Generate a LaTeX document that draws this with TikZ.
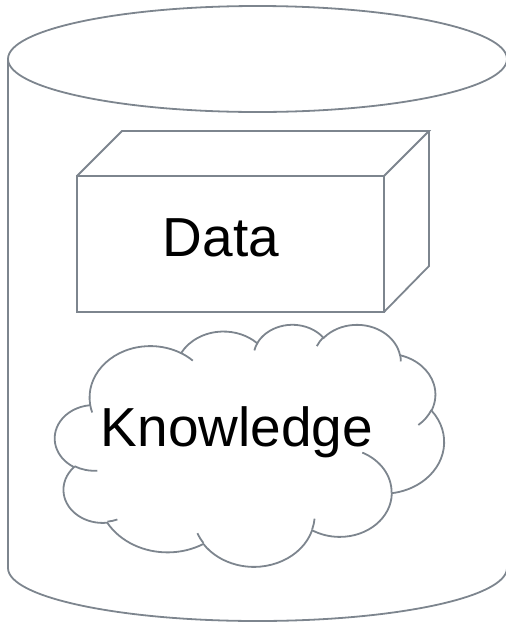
\documentclass[tikz,border=0pt]{standalone}
\usepackage{fontspec}
\setmainfont{Liberation Sans}
\usepackage{tikz}
\definecolor{edgegray}{RGB}{125,133,142}
\tikzset{
  outline/.style={draw=edgegray, line width=1.8pt},
  bigtext/.style={font=\fontsize{55}{60}\selectfont, inner sep=0pt},
  ooarc/.style args={#1/#2/#3/#4}{start angle={atan2(#1*sin(#3),#2*cos(#3))},
    delta angle={mod(atan2(#1*sin(#3+#4),#2*cos(#3+#4))-atan2(#1*sin(#3),#2*cos(#3))+720,360)},
    x radius=#1, y radius=#2}
}
\begin{document}
\begin{tikzpicture}[x=1pt, y=-1pt]
	\useasboundingbox (0,0) rectangle (506,622);

	% cylinder
	\draw[outline] (257.5,59) ellipse [x radius=249.5, y radius=53];
	\draw[outline] (8,59) -- (8,568) arc[start angle=180, end angle=0, x radius=249.5, y radius=53] -- (507,59);

	% cuboid
	\draw[outline] (77,176) rectangle (384,312);
	\draw[outline] (77,176) -- (122,131) -- (429,131) -- (384,176);
	\draw[outline] (429,131) -- (429,266) -- (384,312);
	\node[bigtext] (data) at (221,238) {Data};

	% cloud
	\begin{scope}[shift={(55,324)}, xscale=389/432, yscale=242/432]
	\draw[outline] (39.00,143.70)
	  \foreach \w/\h/\s/\d in {67.53/91.90/-190.4875/123.7805, 53.33/72.67/-144.1024/89.9452,
	    43.65/59.45/-145.8079/99.7230, 48.57/65.95/-130.9861/117.2417,
	    53.33/72.73/-78.7089/109.0269, 67.75/92.20/-46.2673/130.2690,
	    57.85/78.67/0.6250/114.0333, 67.52/92.15/22.4516/115.1726,
	    77.20/105.43/66.2426/75.7110, 43.60/59.18/-274.9421/146.7356,
	    43.45/59.45/-246.8285/152.5189}
	  { arc[ooarc=\w/\h/\s/\d] } -- cycle;
	\foreach \x/\y/\w/\h/\s/\d in {46.93/261.77/43.45/59.45/86.7420/26.4295,
	    69.28/348.99/43.60/59.18/73.6105/11.4475, 164.78/390.90/67.52/92.15/137.6242/14.0811,
	    288.27/347.51/67.52/92.15/6.4533/15.9984, 341.29/229.54/57.85/78.67/-70.2924/70.9174,
	    417.98/153.54/53.33/72.73/30.3180/27.7515, 383.24/54.26/48.57/65.95/-13.7443/14.8589,
	    290.78/39.52/48.57/65.95/-149.1815/18.1954, 221.41/47.20/43.65/59.45/-163.4943/17.6887,
	    140.00/51.92/67.53/91.90/-66.7070/12.3194, 41.27/157.89/67.53/91.90/157.6544/11.8582}
	  \draw[outline] (\x,\y) arc[ooarc=\w/\h/\s/\d];
	\end{scope}
	\node[bigtext] (knowledge) at (237,432) {Knowledge};
\end{tikzpicture}
\end{document}
